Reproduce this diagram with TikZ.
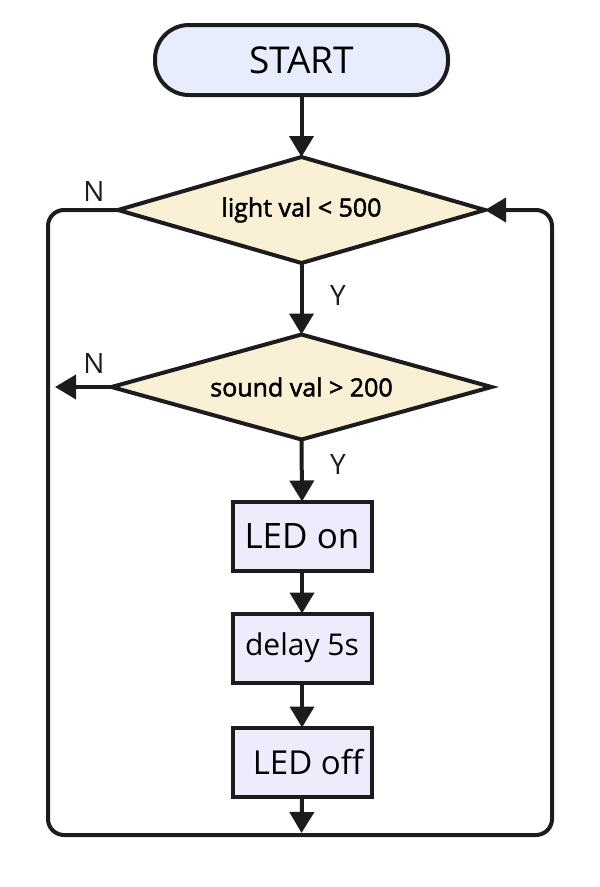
\documentclass[tikz,border=0pt]{standalone}
\usepackage{fontspec}
\setmainfont{Open Sans}
\newfontfamily\semib{Open Sans}[FakeBold=2]
\usetikzlibrary{arrows.meta,shapes.geometric}
\definecolor{startfill}{HTML}{E7EDFC}
\definecolor{decfill}{HTML}{FAF0D5}
\definecolor{procfill}{HTML}{EEEBFD}
\definecolor{ink}{HTML}{1C1C1C}
\begin{document}
\begin{tikzpicture}[x=1pt,y=-1pt,line width=4pt,
  every node/.style={inner sep=0pt,outer sep=0pt},
  startbox/.style={draw=ink,fill=startfill,rounded corners=34pt,minimum width=293pt,minimum height=70pt,font=\fontsize{37}{40}\selectfont},
  decision/.style={draw=ink,fill=decfill,diamond,shape aspect=3.5,font=\semib\fontsize{25}{28}\selectfont},
  procbox/.style={draw=ink,fill=procfill,minimum width=139pt,minimum height=69pt},
  lab/.style={font=\fontsize{28}{30}\selectfont,text=ink},
  arr/.style={draw=ink,-{Triangle[length=21pt,width=24pt]}},
  conn/.style={draw=ink}]
\useasboundingbox (0,0) rectangle (600,887);
\node[startbox] (start) at (301.5,60) {START};
\node[decision,minimum width=367pt,minimum height=106pt] (d1) at (301.5,210) {light val < 500};
\node[decision,minimum width=380pt,minimum height=105pt] (d2) at (301.5,387) {sound val > 200};
\node[procbox,font=\fontsize{35}{37}\selectfont] (b1) at (302,536) {LED on};
\node[procbox,font=\fontsize{30}{32}\selectfont] (b2) at (302,648) {delay 5s};
\node[procbox,font=\fontsize{33}{36}\selectfont] (b3) at (302,762) {\hspace*{12pt}LED off};
\coordinate (lb) at (48,835);
\coordinate (rt) at (552,210);
\coordinate (n2end) at (55,387);
\coordinate (bend) at (301.5,833);
\node[lab] (n1) at (94,192) {N};
\node[lab] (n2) at (94,363) {N};
\node[lab] (y1) at (338,295) {Y};
\node[lab] (y2) at (338,464) {Y};
\draw[arr] (start.south) -- (d1.north);
\draw[arr] (d1.south) -- (d2.north);
\draw[arr] (d2.south) -- (b1.north);
\draw[arr] (b1.south) -- (b2.north);
\draw[arr] (b2.south) -- (b3.north);
\draw[arr] (b3.south) -- (bend);
\draw[arr] (d2.west) -- (n2end);
\draw[arr,rounded corners=16pt] (d1.west) -| (lb) -| (rt) -- (d1.east);
\end{tikzpicture}
\end{document}
